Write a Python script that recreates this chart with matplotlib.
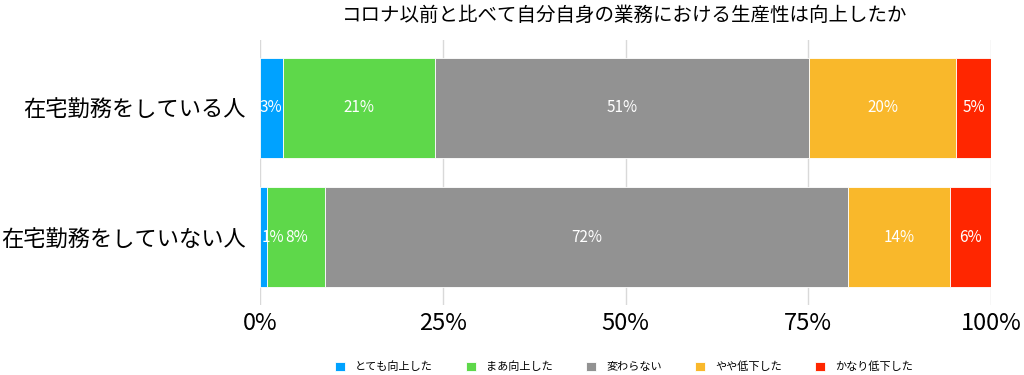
import matplotlib
matplotlib.use("Agg")
import matplotlib.pyplot as plt
import numpy as np

plt.rcParams['font.family'] = ['Noto Sans CJK JP', 'DejaVu Sans']

title = "コロナ以前と比べて自分自身の業務における生産性は向上したか"
groups = ["在宅勤務をしている人", "在宅勤務をしていない人"]
answers = ["とても向上した", "まあ向上した", "変わらない", "やや低下した", "かなり低下した"]
colors = ["#00A2FF", "#5ED84A", "#929292", "#F9B82B", "#FF2600"]

# percent per answer, [remote, not remote]
very_up = [3.1, 1.0]
bit_up = [20.8, 7.9]
same = [51.2, 71.6]
bit_down = [20.1, 13.9]
very_down = [4.8, 5.6]
series = [very_up, bit_up, same, bit_down, very_down]

fig = plt.figure(figsize=(10.24, 3.75), dpi=100)
ax = fig.add_axes([260 / 1024, 1 - 305 / 375, 731 / 1024, 265 / 375])

y = np.arange(len(groups))
left = np.zeros(len(groups))
for name, vals, c in zip(answers, series, colors):
    vals = np.array(vals)
    bars = ax.barh(y, vals, left=left, height=0.77, color=c, label=name,
                   edgecolor="white", linewidth=0.6, zorder=3)
    for b, v, l in zip(bars, vals, left):
        yc = b.get_y() + b.get_height() / 2
        if v < 2:
            # too narrow, start the label just inside the bar
            ax.text(l + 0.2, yc, f"{v:.0f}%", ha="left", va="center",
                    color="white", fontsize=11, zorder=5)
        else:
            ax.text(l + v / 2, yc, f"{v:.0f}%", ha="center", va="center",
                    color="white", fontsize=11, zorder=5)
    left += vals

ax.set_xlim(0, 100)
ax.set_ylim(1.52, -0.52)
ax.set_yticks(y)
ax.set_yticklabels(groups, fontsize=16)
ax.set_xticks([0, 25, 50, 75, 100])
ax.set_xticklabels(["0%", "25%", "50%", "75%", "100%"], fontsize=17)
ax.tick_params(length=0, pad=10)
ax.tick_params(axis="x", pad=5)
ax.grid(axis="x", color="#d9d9d9", linewidth=1, zorder=0)
for s in ax.spines.values():
    s.set_visible(False)

fig.text(625 / 1024, 1 - 15 / 375, title, ha="center", va="center", fontsize=14)
fig.legend(loc="center", bbox_to_anchor=(624 / 1024, 1 - 367 / 375), ncol=5,
           frameon=False, fontsize=8, handlelength=0.9, handleheight=0.9,
           columnspacing=3.0, handletextpad=0.9)

fig.savefig("out.png", dpi=100)
